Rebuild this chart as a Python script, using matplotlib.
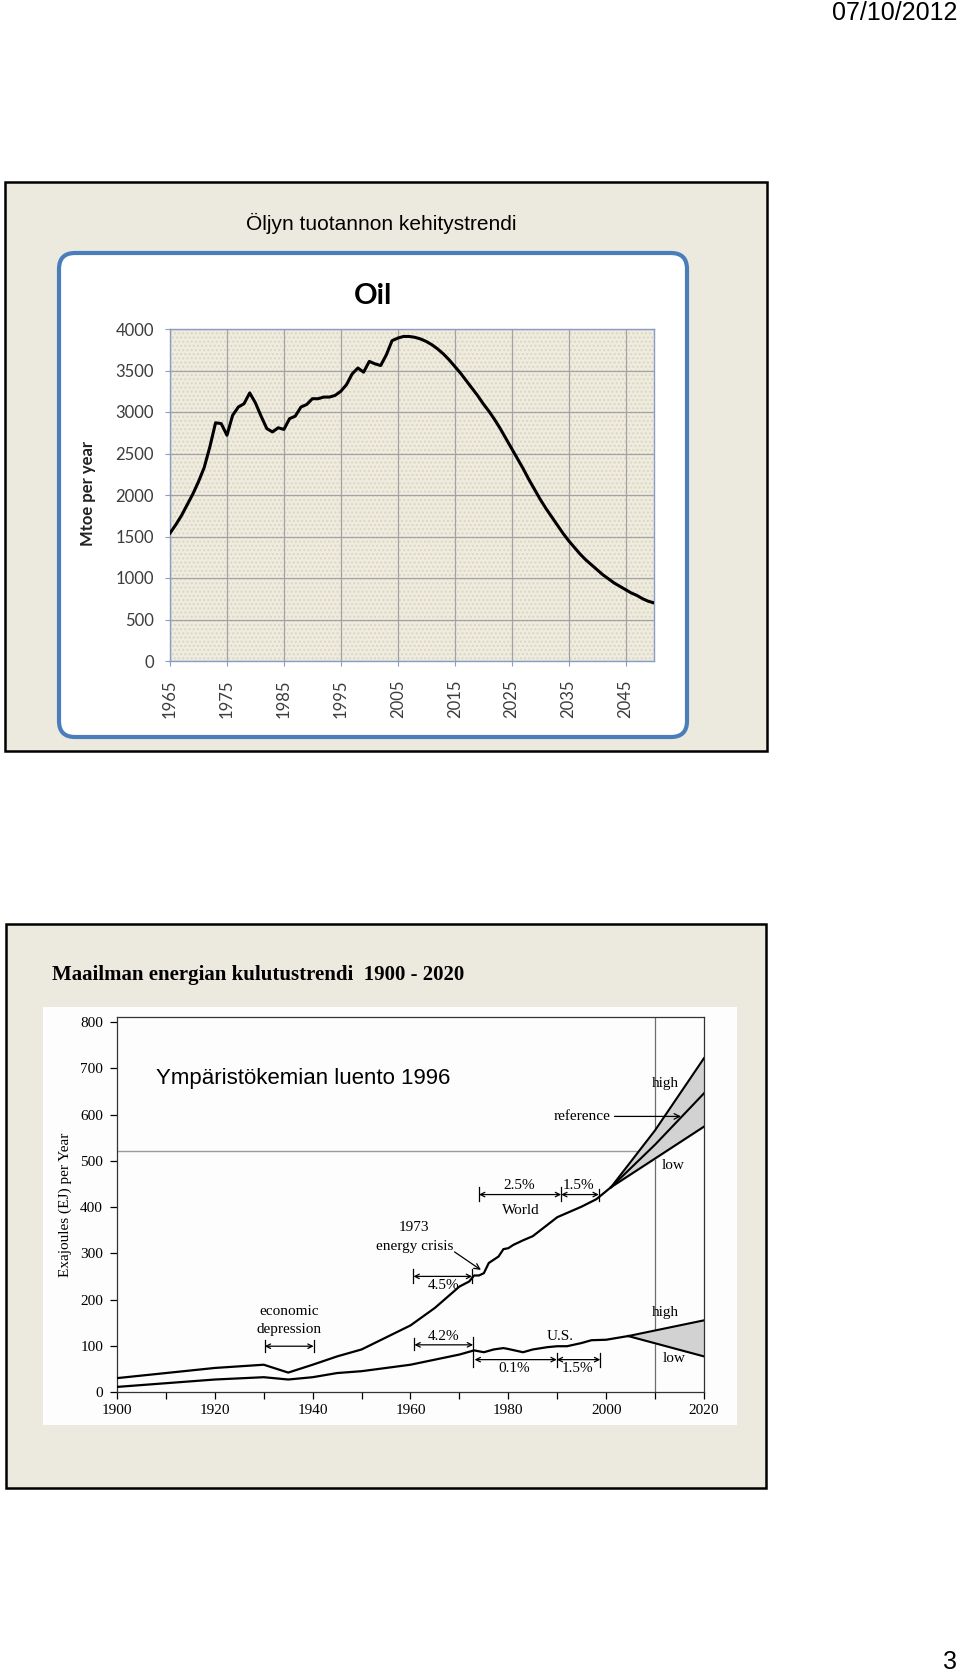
import numpy as np
import matplotlib
matplotlib.use("Agg")
import matplotlib.pyplot as plt
from matplotlib.patches import Rectangle, FancyBboxPatch

W, H = 960, 1679

# --- oil production (Mtoe per year) ---
oil_years = np.arange(1965, 2051)
oil_mtoe = [1540, 1640, 1750, 1880, 2010, 2160, 2330, 2580, 2870, 2860,
            2720, 2960, 3060, 3100, 3230, 3110, 2950, 2800, 2760, 2810,
            2790, 2920, 2950, 3060, 3090, 3160, 3160, 3180, 3180, 3200,
            3250, 3330, 3460, 3530, 3480, 3610, 3580, 3560, 3690, 3860,
            3890, 3910, 3910, 3900, 3880, 3850, 3810, 3760, 3700, 3630,
            3550, 3470, 3380, 3290, 3200, 3100, 3010, 2910, 2800, 2680,
            2560, 2440, 2320, 2190, 2070, 1950, 1840, 1740, 1640, 1540,
            1450, 1370, 1290, 1220, 1160, 1100, 1040, 990, 940, 900,
            860, 820, 790, 750, 720, 700]
oil_xticks = list(range(1965, 2050, 10))
oil_yticks = list(range(0, 4001, 500))

# --- world energy consumption (EJ per year) ---
world_years = [1900, 1910, 1920, 1930, 1935, 1940, 1945, 1950, 1955, 1960,
               1965, 1970, 1972, 1973, 1974, 1975, 1976, 1978, 1979, 1980,
               1981, 1983, 1985, 1990, 1995, 1998, 2001]
world_ej = [30, 41, 52, 59, 42, 59, 77, 92, 118, 144,
            182, 228, 239, 252, 252, 257, 279, 293, 309, 311,
            318, 328, 337, 378, 401, 417, 443]
us_years = [1900, 1910, 1920, 1930, 1935, 1940, 1945, 1950, 1955, 1960,
            1965, 1970, 1973, 1975, 1977, 1979, 1980, 1983, 1985, 1988,
            1990, 1992, 1995, 1997, 2000, 2004.5]
us_ej = [11, 19, 27, 32, 27, 32, 41, 45, 52, 59,
         70, 81, 90, 86, 92, 95, 93, 86, 92, 97,
         99, 99, 106, 112, 113, 121]
proj_years = [2001, 2010, 2020]
world_high = [443, 566, 722]
world_ref = [443, 535, 646]
world_low = [443, 505, 574]
us_proj_years = [2004.5, 2020]
us_high = [121, 155]
us_low = [121, 77]


def px_rect(l, t, r, b):
    return [l / W, 1 - b / H, (r - l) / W, (b - t) / H]


fig = plt.figure(figsize=(W / 100, H / 100), dpi=100)
fig.patch.set_facecolor("white")

# page layer in pixel coordinates
bg = fig.add_axes([0, 0, 1, 1])
bg.set_xlim(0, W)
bg.set_ylim(H, 0)
bg.axis("off")

beige = "#ECE9DF"
bg.add_patch(Rectangle((5, 182), 762, 569, fc=beige, ec="black", lw=1.8))
bg.add_patch(Rectangle((6, 924), 760, 564, fc=beige, ec="black", lw=1.8))
bg.add_patch(FancyBboxPatch((59, 253), 628, 484,
                            boxstyle="round,pad=0,rounding_size=16",
                            fc="white", ec="#4A7EBB", lw=3))
bg.add_patch(Rectangle((43, 1007), 694, 418, fc="#FDFDFD", ec="none"))

bg.text(957, 20, "07/10/2012", ha="right", va="baseline", fontsize=18,
        family=["Liberation Sans Narrow", "Liberation Sans"])
bg.text(957, 1669, "3", ha="right", va="baseline", fontsize=18,
        family="Liberation Sans")
bg.text(381, 230, "Öljyn tuotannon kehitystrendi", ha="center", va="baseline",
        fontsize=15, family="Liberation Sans")
bg.text(52, 980, "Maailman energian kulutustrendi  1900 - 2020", ha="left",
        va="baseline", fontsize=15, fontweight="bold", family="Liberation Serif")
bg.text(373, 296, "Oil", ha="center", va="center", fontsize=21,
        fontweight="bold", family="Lato")
bg.text(88, 493, "Mtoe per year", ha="center", va="center", rotation=90,
        fontsize=12, fontweight="bold", family="Lato", color="#222222")

# --- Oil chart ---
ax1 = fig.add_axes(px_rect(170, 329, 654, 661))
ax1.set_facecolor("#EFECDF")
ax1.add_patch(Rectangle((0, 0), 1, 1, transform=ax1.transAxes, fc="#EFECDF",
                        ec="#DAD6C3", lw=0, hatch="....", zorder=0))
ax1.plot(oil_years, oil_mtoe, color="black", lw=2.2, zorder=3)
ax1.set_xlim(1965, 2050)
ax1.set_ylim(0, 4000)
ax1.set_xticks(oil_xticks)
ax1.set_yticks(oil_yticks)
ax1.set_xticklabels([str(y) for y in oil_xticks], rotation=90)
ax1.grid(True, color="#A3A3A3", lw=0.9, zorder=1)
ax1.set_axisbelow(True)
for sp in ax1.spines.values():
    sp.set_color("#8A9CC4")
    sp.set_linewidth(1)
ax1.tick_params(axis="x", length=3.6, pad=10, colors="#3C3C3C",
                labelsize=12, color="#8A9CC4")
ax1.tick_params(axis="y", length=3.6, pad=8, colors="#3C3C3C",
                labelsize=12, color="#8A9CC4")
for lab in ax1.get_xticklabels() + ax1.get_yticklabels():
    lab.set_family("Lato")

# --- World energy chart ---
serif = "Liberation Serif"
ax2 = fig.add_axes(px_rect(117, 1017, 704, 1392))
ax2.set_facecolor("none")
ax2.set_xlim(1900, 2020)
ax2.set_ylim(0, 811)

ax2.axhline(522, xmin=0, xmax=0.93, color="#9A9A9A", lw=1, zorder=1)
ax2.axvline(2010, color="#6E6E6E", lw=0.9, zorder=1)

ax2.fill_between(proj_years, world_high, world_low, color="#D2D2D2", zorder=2)
ax2.fill_between(us_proj_years, us_high, us_low, color="#D2D2D2", zorder=2)
for yv in (world_high, world_ref, world_low):
    ax2.plot(proj_years, yv, color="black", lw=1.5, zorder=3)
for yv in (us_high, us_low):
    ax2.plot(us_proj_years, yv, color="black", lw=1.5, zorder=3)
ax2.plot(world_years, world_ej, color="black", lw=1.6, zorder=3)
ax2.plot(us_years, us_ej, color="black", lw=1.6, zorder=3)

ax2.set_yticks(range(0, 801, 100))
ax2.set_xticks(range(1900, 2021, 20))
ax2.set_xticks(range(1910, 2020, 20), minor=True)
ax2.tick_params(axis="both", which="both", direction="out", labelsize=11,
                width=0.9)
ax2.tick_params(axis="y", length=5, pad=5)
ax2.tick_params(axis="x", which="major", length=5, pad=4)
ax2.tick_params(axis="x", which="minor", length=5)
for lab in ax2.get_xticklabels() + ax2.get_yticklabels():
    lab.set_family(serif)
for sp in ax2.spines.values():
    sp.set_linewidth(0.9)
    sp.set_color("#333333")
ax2.set_ylabel("Exajoules (EJ) per Year", family=serif, fontsize=11,
               labelpad=6)

txt = dict(family=serif, fontsize=11, ha="center", va="center")
ax2.text(1908, 679, "Ympäristökemian luento 1996", family="Liberation Sans",
         fontsize=16, ha="left", va="center")
ax2.text(2012.1, 668, "high", **txt)
ax2.text(1995.1, 596, "reference", **txt)
ax2.text(2013.6, 490, "low", **txt)
ax2.text(1982.2, 447, "2.5%", **txt)
ax2.text(1994.4, 447, "1.5%", **txt)
ax2.text(1982.6, 393, "World", **txt)
ax2.text(1960.8, 355, "1973", **txt)
ax2.text(1960.8, 315, "energy crisis", **txt)
ax2.text(1966.7, 230, "4.5%", **txt)
ax2.text(1935.2, 174, "economic", **txt)
ax2.text(1935.2, 136, "depression", **txt)
ax2.text(1966.7, 121, "4.2%", **txt)
ax2.text(1990.6, 121, "U.S.", **txt)
ax2.text(2012.1, 171, "high", **txt)
ax2.text(2013.9, 73, "low", **txt)
ax2.text(1981.2, 50, "0.1%", **txt)
ax2.text(1994.2, 50, "1.5%", **txt)

arr = dict(arrowstyle="->", color="black", lw=0.9, shrinkA=0, shrinkB=0)
ax2.annotate("", xy=(2015.3, 596), xytext=(2001.7, 596), arrowprops=arr)
ax2.annotate("", xy=(1974.4, 264), xytext=(1969, 303), arrowprops=arr)

dbl = dict(arrowstyle="<->", color="black", lw=0.9, shrinkA=0, shrinkB=0,
           mutation_scale=8)
spans = [(1974, 1990.8, 427), (1990.8, 1998.5, 427), (1960.6, 1972.6, 250),
         (1930.2, 1940.2, 99), (1960.8, 1972.8, 102), (1973.1, 1989.9, 70),
         (1989.9, 1998.8, 70)]
for x0, x1, yv in spans:
    ax2.annotate("", xy=(x1, yv), xytext=(x0, yv), arrowprops=dbl)
bars = [(1974, 412, 444), (1990.8, 412, 444), (1998.5, 412, 440),
        (1960.6, 236, 265), (1972.6, 236, 265), (1930.2, 86, 113),
        (1940.2, 86, 113), (1960.8, 91, 116), (1972.8, 55, 118),
        (1989.9, 55, 85), (1998.8, 55, 85)]
for xb, y0, y1 in bars:
    ax2.plot([xb, xb], [y0, y1], color="black", lw=0.9)

fig.savefig("out.png", dpi=100)
